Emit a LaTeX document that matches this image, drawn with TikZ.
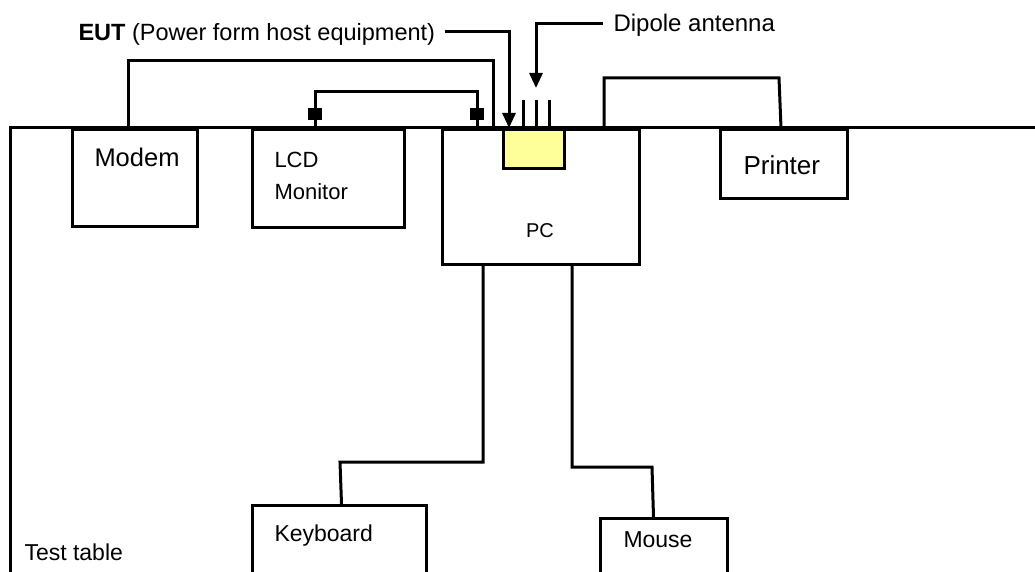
\documentclass[tikz,border=0pt]{standalone}
\usepackage{fontspec}
\setmainfont{Liberation Sans}
\usetikzlibrary{positioning,arrows.meta}
\definecolor{eutYellow}{RGB}{255,255,153}

\begin{document}
\begin{tikzpicture}[
  x=1pt, y=-1pt, line width=3pt,
  box/.style={draw, line width=3pt, inner sep=0pt, anchor=north west},
  lbl/.style={font=\fontsize{23}{28}\selectfont, anchor=base west, inner sep=0pt},
  cable/.style={line width=3pt},
  plug/.style={fill, inner sep=0pt, minimum width=14pt, minimum height=12pt},
  pointer/.style={line width=3pt, -{Triangle[width=13pt,length=15pt]}}
]
\useasboundingbox (0,0) rectangle (1035,572);

% test table
\coordinate (tblbot) at (10,580);
\coordinate (tblcorner) at (10,128);
\coordinate (tblright) at (1035,128);
\draw (tblbot) -- (tblcorner) -- (tblright);
\node[lbl] (tbllab) at (23,560) {Test table};

% equipment on the table
\node[box, minimum width=125pt, minimum height=97pt] (modem) at (71,128) {};
\node[box, minimum width=152pt, minimum height=98pt] (lcd) at (251,128) {};
\node[box, minimum width=197pt, minimum height=135pt] (pc) at (441,128) {};
\node[box, minimum width=127pt, minimum height=69pt] (printer) at (719,128) {};
\node[box, minimum width=174pt, minimum height=80pt] (keyb) at (251,504) {};
\node[box, minimum width=127pt, minimum height=70pt] (mouse) at (599,517) {};
\node[box, fill=eutYellow, minimum width=61pt, minimum height=39pt] (eut) at (502,128) {};

\node[lbl, font=\fontsize{25.5}{30}\selectfont] (modemlab) at (93,167) {Modem};
\node[lbl, font=\fontsize{22}{26}\selectfont, align=left, anchor=north west]
     (lcdlab) at (273,151) {LCD\\[6pt]Monitor};
\node[lbl, font=\fontsize{20}{24}\selectfont, anchor=base] (pclab) at (540,237) {PC};
\node[lbl, font=\fontsize{26}{30}\selectfont] (printerlab) at (742,175) {Printer};
\node[lbl] (keyblab) at (273,541) {Keyboard};
\node[lbl] (mouselab) at (622,547) {Mouse};

% cables
\draw[cable] ([xshift=57pt]modem.north west) |- (493,61) -- ([xshift=52pt]pc.north west);
\draw[cable] ([xshift=64pt]lcd.north west) |- (477,92) -- ([xshift=36pt]pc.north west);
\node[plug] (plugl) at (315,114) {};
\node[plug] (plugr) at (477,114) {};
\draw[cable] ([xshift=163pt]pc.north west) |- (779,78) -- ([xshift=-3pt]printer.north);
\draw[cable] ([xshift=42pt]pc.south west) |- (340,462) -- ([xshift=2pt]keyb.north);
\draw[cable] ([xshift=131pt]pc.south west) |- (652,467) -- ([xshift=-10.5pt]mouse.north);

% dipole antenna
\foreach \ax in {523,536,549}
  \draw[cable] (\ax,100) -- (\ax,128);

% callouts
\node[lbl, font=\fontsize{23.5}{28}\selectfont] (eutlab) at (77,41)
     {\textbf{EUT} (Power form host equipment)};
\node[lbl, font=\fontsize{24}{28}\selectfont] (dipolelab) at (612,32) {Dipole antenna};
\draw[pointer] ([xshift=8pt,yshift=9pt]eutlab.base east) -| ([xshift=7pt]eut.north west);
\draw[pointer] ([xshift=-9pt,yshift=8pt]dipolelab.base west) -| (536,88);
\end{tikzpicture}
\end{document}
